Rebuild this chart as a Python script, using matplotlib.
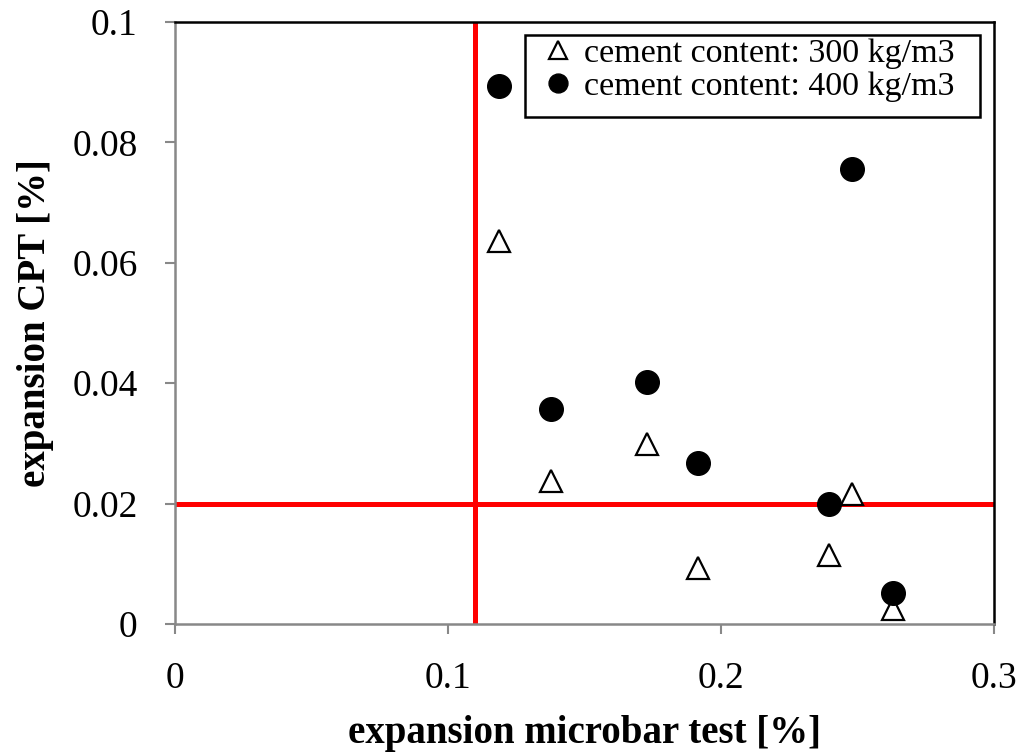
import matplotlib
matplotlib.use("Agg")
import matplotlib.pyplot as plt
import numpy as np
from matplotlib.legend_handler import HandlerLine2D
from matplotlib.patches import Rectangle

x_microbar = [0.1187, 0.1377, 0.1729, 0.1916, 0.2396, 0.2480, 0.2630]
cpt_300 = [0.0636, 0.0238, 0.0299, 0.0093, 0.0115, 0.0216, 0.0025]
cpt_400 = [0.0894, 0.0357, 0.0402, 0.0267, 0.0199, 0.0756, 0.0051]
limit_x = 0.11
limit_y = 0.02
label_300 = "cement content: 300 kg/m3"
label_400 = "cement content: 400 kg/m3"
x_ticks = [0, 0.1, 0.2, 0.3]
x_ticklabels = ["0", "0.1", "0.2", "0.3"]
y_ticks = [0, 0.02, 0.04, 0.06, 0.08, 0.1]
y_ticklabels = ["0", "0.02", "0.04", "0.06", "0.08", "0.1"]

plt.rcParams['font.family'] = ['Liberation Serif', 'DejaVu Serif']


class RightMarkerHandler(HandlerLine2D):
    def get_xdata(self, legend, xdescent, ydescent, width, height, fontsize):
        xd = np.array([-xdescent, -xdescent + width])
        xm = np.array([-xdescent + width - 0.3 * fontsize])
        return xd, xm


fig = plt.figure(figsize=(10.21, 7.53), dpi=100)
ax = fig.add_axes([175/1021, 1-624/753, (994-175)/1021, (624-22)/753])

ax.axvline(limit_x, color='#ff0000', lw=3.6, zorder=1)
ax.axhline(limit_y, color='#ff0000', lw=3.6, zorder=1)

l1, = ax.plot(x_microbar, cpt_300, linestyle='none', marker='^', ms=16.5,
              mfc='white', mec='black', mew=1.6, label=label_300, zorder=3)
l2, = ax.plot(x_microbar, cpt_400, linestyle='none', marker='o', ms=17,
              mfc='black', mec='black', label=label_400, zorder=4)

ax.set_xlim(0, 0.3)
ax.set_ylim(0, 0.1)
ax.set_xticks(x_ticks)
ax.set_xticklabels(x_ticklabels)
ax.set_yticks(y_ticks)
ax.set_yticklabels(y_ticklabels)
ax.tick_params(axis='both', direction='out', length=7, width=1.5, color='#888888',
               labelsize=27)
ax.tick_params(axis='y', pad=20)
ax.tick_params(axis='x', pad=20)

for s in ['left', 'bottom']:
    ax.spines[s].set_color('#888888')
    ax.spines[s].set_linewidth(1.8)
for s in ['top', 'right']:
    ax.spines[s].set_color('black')
    ax.spines[s].set_linewidth(1.8)

ax.set_xlabel("expansion microbar test [%]", fontsize=28, fontweight='bold', labelpad=14)
ax.set_ylabel("expansion CPT [%]", fontsize=28, fontweight='bold', labelpad=13)

# legend frame (Excel-style box with wide side padding)
frame = Rectangle((0.4274, 0.8422), 0.9829 - 0.4274, 0.9784 - 0.8422,
                  transform=ax.transAxes, facecolor='white', edgecolor='black',
                  lw=1.8, zorder=5, clip_on=False)
ax.add_patch(frame)

handler = RightMarkerHandler(numpoints=1)
leg = ax.legend(handles=[l1, l2], loc='upper right', bbox_to_anchor=(0.9524, 0.973),
                borderaxespad=0, fontsize=24.5, frameon=False, handlelength=1.46,
                handletextpad=0.05, borderpad=0, labelspacing=0.05,
                markerscale=0.8, handler_map={l1: handler, l2: handler})
leg.set_zorder(6)

fig.savefig("out.png", dpi=100)
